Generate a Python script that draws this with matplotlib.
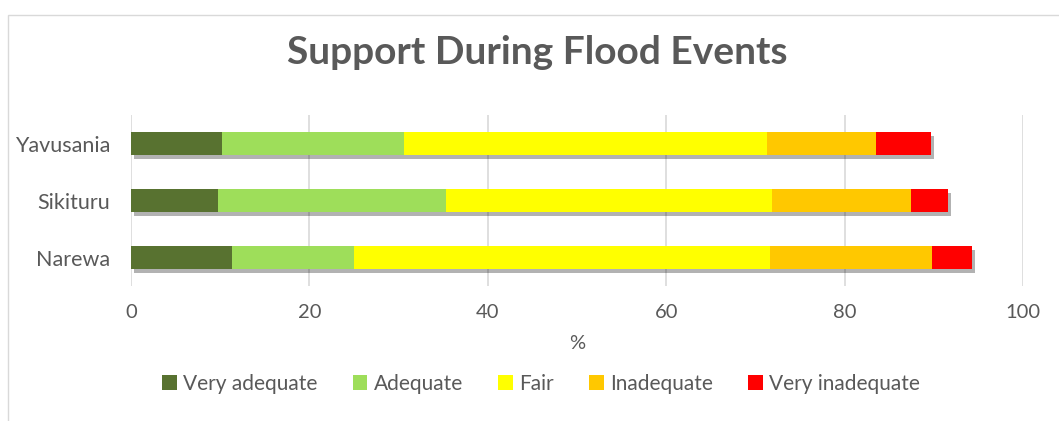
import matplotlib
matplotlib.use("Agg")
import matplotlib.pyplot as plt
import matplotlib.patheffects as pe
from matplotlib.patches import Rectangle, Patch
import numpy as np

communities = ["Narewa", "Sikituru", "Yavusania"]
categories = ["Very adequate", "Adequate", "Fair", "Inadequate", "Very inadequate"]
very_adequate = [11.3, 9.8, 10.2]
adequate = [13.7, 25.5, 20.4]
fair = [46.6, 36.6, 40.7]
inadequate = [18.2, 15.5, 12.2]
very_inadequate = [4.5, 4.2, 6.2]
colors = ["#587230", "#9ede5a", "#ffff00", "#ffc800", "#ff0000"]
ticks = [0, 20, 40, 60, 80, 100]

series = [very_adequate, adequate, fair, inadequate, very_inadequate]
text_color = "#595959"
font = "Lato"

fig = plt.figure(figsize=(10.59, 4.21), dpi=100)
fig.patches.append(Rectangle((8 / 1059, -0.1), 1.2, (1 - 15 / 421) + 0.1,
                             transform=fig.transFigure, fill=False,
                             edgecolor="#d9d9d9", linewidth=1.0))
ax = fig.add_axes([131 / 1059, 1 - 286 / 421, (1023 - 131) / 1059, (286 - 115) / 421])

y = np.arange(len(communities))
left = np.zeros(len(communities))
shadow = [pe.SimplePatchShadow(offset=(2, -3), shadow_rgbFace="#000000", alpha=0.3), pe.Normal()]
for vals, name, col in zip(series, categories, colors):
    bars = ax.barh(y, vals, left=left, height=0.4, color=col, zorder=3)
    for b in bars:
        b.set_path_effects(shadow)
    left += np.array(vals)

ax.set_xlim(0, 100)
ax.set_ylim(-0.5, 2.5)
ax.set_xticks(ticks)
ax.set_xticklabels([str(t) for t in ticks], fontsize=14.5, color=text_color, family=font)
ax.set_yticks(y)
ax.set_yticklabels(communities, fontsize=15.5, color=text_color, family=font)
ax.tick_params(length=0)
ax.tick_params(axis="y", pad=15)
ax.tick_params(axis="x", pad=13)
ax.grid(axis="x", color="#d9d9d9", linewidth=1.2, zorder=0)
for s in ax.spines.values():
    s.set_visible(False)
ax.set_xlabel("%", fontsize=14.5, color=text_color, family=font, labelpad=10)

fig.text(537 / 1059, 1 - 53 / 421, "Support During Flood Events", ha="center", va="center",
         fontsize=28, fontweight="bold", color=text_color, family=font)

handles = [Patch(facecolor=c, label=n) for c, n in zip(colors, categories)]
leg = fig.legend(handles=handles, loc="center", bbox_to_anchor=(541 / 1059, 1 - 384 / 421), ncol=5,
                 frameon=False, handlelength=0.7, handleheight=0.7, handletextpad=0.3,
                 columnspacing=1.7, prop={"family": font, "size": 15})
for t in leg.get_texts():
    t.set_color(text_color)

fig.savefig("out.png", dpi=100, facecolor="white")
